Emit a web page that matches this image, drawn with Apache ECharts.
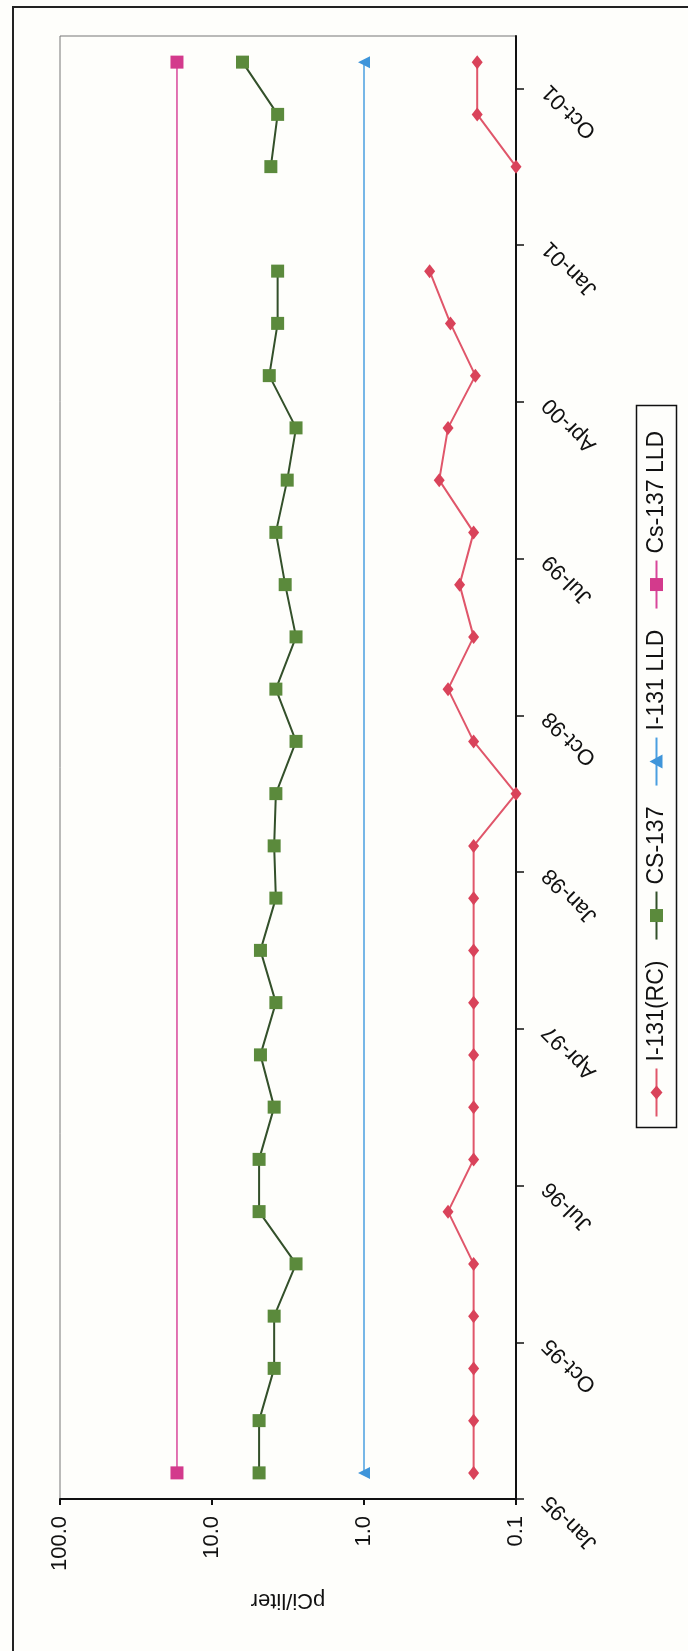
<!DOCTYPE html>
<html>
<head>
<meta charset="utf-8">
<script src="https://cdn.jsdelivr.net/npm/echarts@6/dist/echarts.min.js"></script>
<style>
html,body{margin:0;padding:0;background:#fefefb;overflow:hidden}
#c{width:688px;height:1651px}
</style>
</head>
<body>
<div id="c"></div>
<script>
// ---- data ----
const sampleMonths = ['1995-02','1995-05','1995-08','1995-11','1996-02','1996-05','1996-08','1996-11',
  '1997-02','1997-05','1997-08','1997-11','1998-02','1998-05','1998-08','1998-11',
  '1999-02','1999-05','1999-08','1999-11','2000-02','2000-05','2000-08','2000-11',
  '2001-02','2001-05','2001-08','2001-11'];
const i131RC = [0.19,0.19,0.19,0.19,0.19,0.28,0.19,0.19,0.19,0.19,0.19,0.19,0.19,0.1,
  0.19,0.28,0.19,0.235,0.19,0.32,0.28,0.185,0.27,0.37,null,0.1,0.18,0.18];
const cs137 = [4.9,4.9,3.9,3.9,2.8,4.9,4.9,3.9,4.8,3.8,4.8,3.8,3.9,3.8,
  2.8,3.8,2.8,3.3,3.8,3.2,2.8,4.2,3.7,3.7,null,4.1,3.7,6.3];
const i131LLD = 1.0;
const cs137LLD = 17;
const seriesNames = ['I-131(RC)','CS-137','I-131 LLD','Cs-137 LLD'];
const valueTickLabels = ['0.1','1.0','10.0','100.0'];
const dateTickLabels = ['Jan-95','Oct-95','Jul-96','Apr-97','Jan-98','Oct-98','Jul-99','Apr-00','Jan-01','Oct-01'];
const axisName = 'pCi/liter';

// ---- helpers ----
const FONT = '"Liberation Sans", Arial, Helvetica, sans-serif';
function monthIndex(s){ const p = s.split('-').map(Number); return (p[0]-1995)*12 + (p[1]-1) + 0.5; }
function toPoints(vals){ return sampleMonths.map((s,i)=> [vals[i]==null ? '-' : vals[i], monthIndex(s)]); }
const firstM = monthIndex(sampleMonths[0]);
const lastM = monthIndex(sampleMonths[sampleMonths.length-1]);

const COLORS = {
  red:   {line:'#e0566a', mark:'#d9435a'},
  green: {line:'#33502a', mark:'#5b8a3c'},
  blue:  {line:'#4a9fe0', mark:'#3f95da'},
  pink:  {line:'#d8469a', mark:'#d33a8c'}
};

// ---- legend (rotated, drawn as graphic) ----
const legendFont = '23px ' + FONT;
const mctx = document.createElement('canvas').getContext('2d');
mctx.font = legendFont;
const legendItems = [
  {name:seriesNames[0], c:COLORS.red, sym:'diamond'},
  {name:seriesNames[1], c:COLORS.green, sym:'square'},
  {name:seriesNames[2], c:COLORS.blue, sym:'triangle'},
  {name:seriesNames[3], c:COLORS.pink, sym:'square'}
];
const legendChildren = [{type:'rect', shape:{x:-361,y:-20,width:722,height:40},
  style:{fill:'#fefefb', stroke:'#111', lineWidth:1.5}}];
let lx = -350;
legendItems.forEach(it => {
  legendChildren.push({type:'line', shape:{x1:lx,y1:0,x2:lx+48,y2:0}, style:{stroke:it.c.line,lineWidth:2}});
  const cx = lx + 24;
  if (it.sym === 'diamond') {
    legendChildren.push({type:'polygon', shape:{points:[[cx-7,0],[cx,-6],[cx+7,0],[cx,6]]}, style:{fill:it.c.mark}});
  } else if (it.sym === 'triangle') {
    legendChildren.push({type:'polygon', shape:{points:[[cx,-7],[cx+7,6],[cx-7,6]]}, style:{fill:it.c.mark}});
  } else {
    legendChildren.push({type:'rect', shape:{x:cx-6.5,y:-6.5,width:13,height:13}, style:{fill:it.c.mark}});
  }
  lx += 55;
  const w = mctx.measureText(it.name).width;
  legendChildren.push({type:'text', style:{text:it.name, x:lx, y:0, font:legendFont, fill:'#111',
    textAlign:'left', textVerticalAlign:'middle', align:'left', verticalAlign:'middle'}});
  lx += w + 21;
});

const chart = echarts.init(document.getElementById('c'));
chart.setOption({
  animation:false,
  backgroundColor:'#fefefb',
  grid:{left:60, right:172, top:36, bottom:152, show:true, borderColor:'#777', borderWidth:1},
  xAxis:{
    type:'log', logBase:10, min:0.1, max:100, inverse:true, position:'bottom',
    axisLine:{show:true, onZero:false, lineStyle:{color:'#111', width:2}},
    axisTick:{show:true, length:6, lineStyle:{color:'#111', width:2}},
    minorTick:{show:false},
    splitLine:{show:false},
    axisLabel:{rotate:90, margin:17, color:'#111', fontSize:22, fontFamily:FONT,
      formatter:v => valueTickLabels[Math.round(Math.log10(v))+1]},
    name:axisName, nameLocation:'middle', nameRotate:180, nameGap:90,
    nameTextStyle:{fontSize:22, color:'#111', fontFamily:FONT}
  },
  yAxis:{
    type:'value', min:0, max:84, interval:9, position:'right',
    axisLine:{show:true, onZero:false, lineStyle:{color:'#111', width:2}},
    axisTick:{show:true, length:8, lineStyle:{color:'#111', width:1.5}},
    splitLine:{show:false},
    axisLabel:{rotate:135, margin:30, color:'#111', fontSize:22, fontFamily:FONT, showMaxLabel:false,
      formatter:v => { const i = Math.round(v/9); return (Math.abs(v-9*i)<1e-6 && dateTickLabels[i]) ? dateTickLabels[i] : ''; }}
  },
  series:[
    {name:seriesNames[3], type:'line', data:[[cs137LLD, firstM],[cs137LLD, lastM]], symbol:'rect', symbolSize:13,
      itemStyle:{color:COLORS.pink.mark}, lineStyle:{color:COLORS.pink.line, width:1.5}, clip:false, z:2},
    {name:seriesNames[2], type:'line', data:[[i131LLD, firstM],[i131LLD, lastM]], symbol:'triangle', symbolRotate:90, symbolSize:12,
      itemStyle:{color:COLORS.blue.mark}, lineStyle:{color:COLORS.blue.line, width:1.5}, clip:false, z:2},
    {name:seriesNames[1], type:'line', data:toPoints(cs137), symbol:'rect', symbolSize:13, connectNulls:false,
      itemStyle:{color:COLORS.green.mark}, lineStyle:{color:COLORS.green.line, width:2}, clip:false, z:3},
    {name:seriesNames[0], type:'line', data:toPoints(i131RC), symbol:'diamond', symbolSize:[11,14], connectNulls:false,
      itemStyle:{color:COLORS.red.mark}, lineStyle:{color:COLORS.red.line, width:2}, clip:false, z:3}
  ],
  graphic:[
    {type:'rect', silent:true, z:-10, shape:{x:13,y:7,width:760,height:1700},
      style:{fill:'transparent', stroke:'#222', lineWidth:2}},
    {type:'group', x:656.5, y:766.5, rotation:Math.PI/2, children:legendChildren}
  ]
});
</script>
</body>
</html>
